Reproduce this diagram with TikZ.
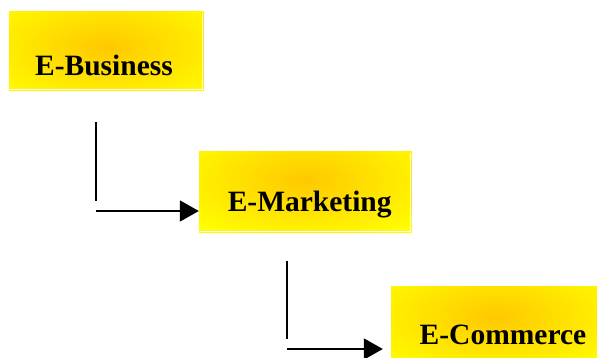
\documentclass[tikz,border=0pt]{standalone}
\usepackage{fontspec}
\setmainfont{Liberation Serif}
\usetikzlibrary{arrows.meta}
\definecolor{boxyellow}{HTML}{FFFF00}
\definecolor{boxorange}{HTML}{FFC800}
\tikzset{
  shadedbox/.style={draw=none, fill=boxyellow, inner sep=0pt,
    path picture={\shade[inner color=boxorange, outer color=boxyellow]
      ([yshift=-#1]path picture bounding box.north) ellipse [x radius=150pt, y radius=66pt];}},
  boxlabel/.style={anchor=base, inner sep=0pt, font=\bfseries\fontsize{29.5}{32}\selectfont},
  innerline/.style={draw=white, line width=0.8pt},
  conn/.style={line width=1.9pt, black},
  arr/.style={conn, -{Triangle[length=19pt,width=21pt]}}
}
\begin{document}
\begin{tikzpicture}[x=1pt,y=-1pt]
\clip (0,0) rectangle (597,358);
\fill[white] (0,0) rectangle (597,358);
% boxes
\node[shadedbox=35pt, minimum width=195pt, minimum height=79pt] (b1) at (106.5,51.5) {};
\node[shadedbox=28pt, minimum width=213pt, minimum height=81pt] (b2) at (305.5,192.5) {};
\node[shadedbox=31pt, minimum width=209pt, minimum height=80pt] (b3) at (495.5,326) {};
\draw[innerline] ([xshift=-2pt,yshift=-1pt]b1.north east) -- ([xshift=-2pt,yshift=2pt]b1.south east) -- ([xshift=1pt,yshift=2pt]b1.south west);
\draw[innerline] ([xshift=-2pt,yshift=-1pt]b2.north east) -- ([xshift=-2pt,yshift=1.5pt]b2.south east) -- ([xshift=1pt,yshift=1.5pt]b2.south west);
% labels
\node[boxlabel] (t1) at (104,76) {E-Business};
\node[boxlabel] (t2) at (309.7,211.7) {E-Marketing};
\node[boxlabel] (t3) at (503,344.3) {E-Commerce};
% connectors
\coordinate (a1s) at (95.7,122);
\coordinate (a1e) at (95.7,200.7);
\coordinate (a1h) at (95.7,211);
\draw[conn] (a1s) -- (a1e);
\draw[arr] (a1h) -- (a1h -| b2.west);
\coordinate (a2s) at (287.3,260.7);
\coordinate (a2e) at (287.3,339.3);
\coordinate (a2h) at (287.3,349);
\draw[conn] (a2s) -- (a2e);
\draw[arr, shorten >=8pt] (a2h) -- (a2h -| b3.west);
\end{tikzpicture}
\end{document}
